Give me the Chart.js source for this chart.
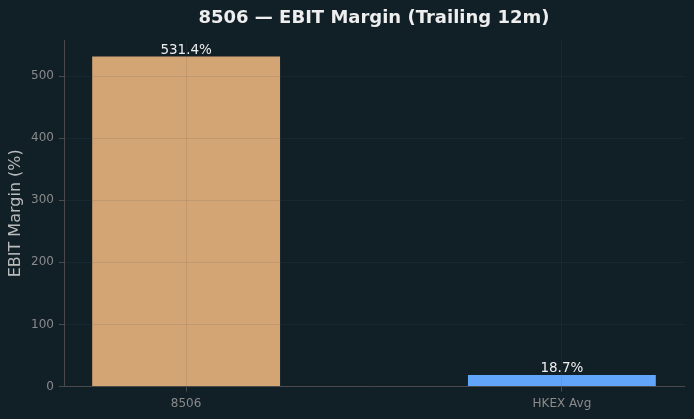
<!DOCTYPE html>
<html><head><meta charset="utf-8">
<script src="https://cdn.jsdelivr.net/npm/chart.js@4"></script>
<style>html,body{margin:0;padding:0;background:#111f27;}canvas{display:block;}</style>
</head><body>
<canvas id="c" width="694" height="419"></canvas>
<script>
const categories = ["8506", "HKEX Avg"];
const values = [531.4, 18.7];
const barColors = ["#d4a574", "#60a5fa"];
const yMax = 558;
const yStep = 100;
const titleText = "8506 — EBIT Margin (Trailing 12m)";
const yTitle = "EBIT Margin (%)";

const FONT = "'DejaVu Sans', sans-serif";
const spine = "#4a4a4a";
const gridColor = "rgba(90,90,90,0.15)";
const tickText = "#8a8a8a";

const titlePlugin = {
  id: 'ctitle',
  afterDraw(chart) {
    const ctx = chart.ctx, a = chart.chartArea;
    ctx.save();
    ctx.font = "bold 18px " + FONT;
    ctx.fillStyle = "#eeeeee";
    ctx.textAlign = "center";
    ctx.textBaseline = "middle";
    ctx.fillText(titleText, (a.left + a.right) / 2, 18.5);
    ctx.restore();
  }
};
const labelPlugin = {
  id: 'vlabels',
  afterDraw(chart) {
    const ctx = chart.ctx;
    const meta = chart.getDatasetMeta(0);
    ctx.save();
    ctx.font = "13.5px " + FONT;
    ctx.fillStyle = "#eeeeee";
    ctx.textAlign = "center";
    ctx.textBaseline = "alphabetic";
    meta.data.forEach((bar, i) => {
      ctx.fillText(values[i].toFixed(1) + "%", bar.x, bar.y - 2.5);
    });
    ctx.restore();
  }
};

new Chart(document.getElementById('c'), {
  type: 'bar',
  data: {
    datasets: [{
      data: values.map((v, i) => ({x: i, y: v})),
      backgroundColor: barColors,
      borderWidth: 0,
      barPercentage: 0.5,
      categoryPercentage: 1.0
    }]
  },
  options: {
    responsive: false,
    animation: false,
    devicePixelRatio: 1,
    layout: {padding: {top: 40, right: 10, left: 0, bottom: 0}},
    plugins: {legend: {display: false}, tooltip: {enabled: false}, title: {display: false}},
    scales: {
      x: {
        type: 'linear',
        min: -0.325,
        max: 1.325,
        offset: false,
        z: 1,
        afterBuildTicks: s => { s.ticks = [{value: 0}, {value: 1}]; },
        ticks: {
          callback: v => categories[v],
          color: tickText,
          font: {family: FONT, size: 12},
          padding: 5,
          autoSkip: false,
          maxRotation: 0
        },
        grid: {offset: false, z: 1, color: gridColor, tickColor: spine, tickLength: 5, lineWidth: 1},
        border: {color: spine, width: 1, z: 2},
        afterFit: s => { s.height = 32.5; }
      },
      y: {
        min: 0,
        max: yMax,
        z: 1,
        ticks: {
          stepSize: yStep,
          includeBounds: false,
          color: tickText,
          font: {family: FONT, size: 12},
          padding: 5
        },
        grid: {z: 1, color: gridColor, tickColor: spine, tickLength: 5, lineWidth: 1},
        border: {color: spine, width: 1, z: 2},
        title: {display: true, text: yTitle, color: "#bbbbbb", font: {family: FONT, size: 16}, padding: {top: 6, bottom: 0}},
        afterFit: s => { s.width = 64; }
      }
    }
  },
  plugins: [titlePlugin, labelPlugin]
});
</script>
</body></html>
